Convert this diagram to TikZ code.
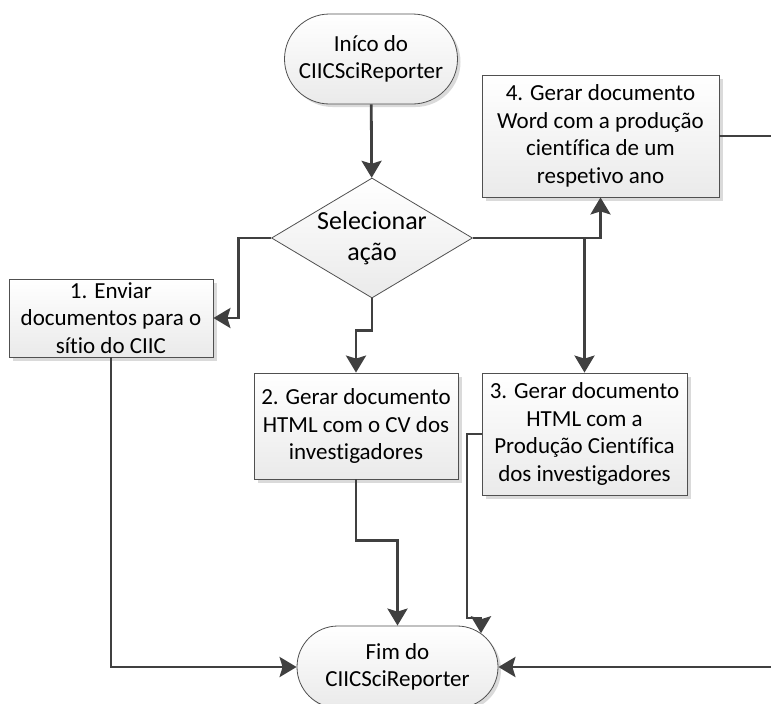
\documentclass[tikz,border=0pt]{standalone}
\usepackage{fontspec}
\setmainfont{Carlito}[Ligatures=NoCommon]
\usepackage{tikz}
\usetikzlibrary{shapes.geometric, shapes.misc, arrows.meta, shadows}
\definecolor{linegray}{RGB}{64,64,64}
\definecolor{edgegray}{RGB}{80,80,80}
\definecolor{fillgray}{RGB}{234,234,234}
\definecolor{shadowgray}{RGB}{218,218,218}

\begin{document}
\begin{tikzpicture}[
    x=1pt, y=-1pt,
    font=\fontsize{23}{27.5}\selectfont,
    box/.style={rectangle, draw=edgegray, line width=0.8pt, top color=white, bottom color=fillgray, drop shadow={shadow xshift=4pt, shadow yshift=-4pt, fill=shadowgray, opacity=1}, align=center, inner sep=2pt, text=black},
    term/.style={rounded rectangle, draw=edgegray, line width=0.8pt, top color=white, bottom color=fillgray, drop shadow={shadow xshift=3pt, shadow yshift=-3pt, fill=shadowgray, opacity=1}, align=center, inner sep=2pt, text=black},
    decision/.style={diamond, draw=edgegray, line width=0.8pt, top color=white, bottom color=fillgray, aspect=1.675, inner sep=0pt, minimum width=201pt, minimum height=120pt, align=center, text=black, font=\fontsize{26}{31}\selectfont},
    arrow/.style={-{Stealth[length=17pt, width=20pt, inset=3pt]}, line width=2.8pt, linegray}
]
\useasboundingbox (0,0) rectangle (771,704);

% Start and decision
\node[term, minimum width=177pt, minimum height=90pt] (start) at (371,59) {Iníco do\\CIICSciReporter};
\node[decision] (choice) at (372,238) {Selecionar\\ação};

% Actions
\node[box, minimum width=237pt, minimum height=122pt] (word) at (600.5,136) {4. Gerar documento\\Word com a produção\\científica de um\\respetivo ano};
\node[box, minimum width=204pt, minimum height=78pt] (send) at (111,318) {1. Enviar\\documentos para o\\sítio do CIIC};
\node[box, minimum width=204pt, minimum height=106pt] (cv) at (356,426) {2. Gerar documento\\HTML com o CV dos\\investigadores};
\node[box, minimum width=205pt, minimum height=122pt] (prod) at (584.5,434) {3. Gerar documento\\HTML com a\\Produção Científica\\dos investigadores};

% End
\node[term, minimum width=205pt, minimum height=82pt] (end) at (397.5,667) {Fim do\\CIICSciReporter};
\coordinate (bend3) at (467,618);

% Arrows - choice
\draw[arrow] (start) -- (choice);
\draw[arrow] (choice.west) -- ++(-33,0) |- (send.east);
\draw[arrow] (choice.south) -- ++(0,32) -| (cv.north);
\draw[arrow] (choice.east) -| (word.south);
\draw[arrow] (choice.east -| prod.north) -- (prod.north);

% Arrows - to end
\draw[arrow] (send.south) |- (end.west);
\draw[arrow] (cv.south) -- ++(0,61) -| (end.north);
\draw[arrow] (prod.west) -| (bend3) -- (bend3 -| end.22) -- (end.22);
\draw[arrow] (word.east) -- ++(61,0) |- (end.east);

\end{tikzpicture}
\end{document}
